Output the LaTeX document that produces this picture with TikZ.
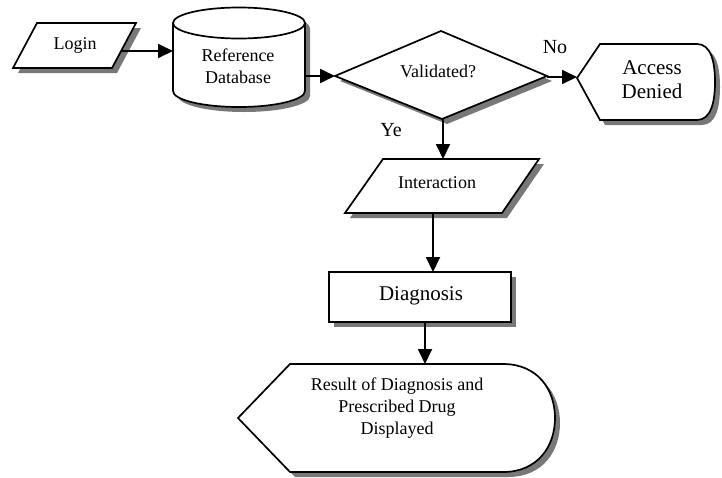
\documentclass[tikz,border=0pt]{standalone}
\usepackage{fontspec}
\setmainfont{Liberation Serif}
\usetikzlibrary{arrows.meta}
\definecolor{shadowgray}{RGB}{120,120,120}
\begin{document}
\begin{tikzpicture}[x=1pt,y=-1pt,
  shp/.style={draw, line width=1.7pt, fill=white, line join=miter},
  conn/.style={line width=1.8pt, -{Triangle[length=15pt,width=14pt]}},
  txt/.style={align=center, inner sep=0pt, font=\fontsize{18}{22}\selectfont},
  bigtxt/.style={align=center, inner sep=0pt, font=\fontsize{21}{24}\selectfont},
  lbl/.style={inner sep=0pt, font=\fontsize{20}{24}\selectfont}]
\path[use as bounding box] (0,0) rectangle (722,477);

% shadows
\begin{scope}[xshift=5pt,yshift=-5pt]
\fill[shadowgray] (37,23) -- (136,23) -- (112,68) -- (13,68) -- cycle;
\fill[shadowgray] (173,23) -- (173,91) arc[start angle=180,end angle=360,x radius=66pt,y radius=16pt]
  -- (305,23) arc[start angle=0,end angle=180,x radius=66pt,y radius=15.5pt] -- cycle;
\fill[shadowgray] (335,76) -- (441,31) -- (547,76) -- (442,119) -- cycle;
\fill[shadowgray] (577,78) -- (600,44) -- (697,44) .. controls (711,44) and (715,62) .. (715,82)
  .. controls (715,102) and (711,120) .. (697,120) -- (600,120) -- cycle;
\fill[shadowgray] (383,159) -- (539,159) -- (502,213) -- (345,213) -- cycle;
\fill[shadowgray] (329,272) rectangle (511,322);
\fill[shadowgray] (238,418) -- (290,364) -- (503,364) .. controls (538,364) and (555,390) .. (555,418)
  .. controls (555,446) and (538,472) .. (503,472) -- (290,472) -- cycle;
\end{scope}

% Login
\path[shp] (37,23) -- (136,23) -- (112,68) -- (13,68) -- cycle;
\node[txt] (login) at (75,45) {Login};
\coordinate (login-e) at (121,51);

% Reference Database (cylinder)
\path[shp] (173,23) -- (173,91) arc[start angle=180,end angle=360,x radius=66pt,y radius=16pt]
  -- (305,23) arc[start angle=0,end angle=180,x radius=66pt,y radius=15.5pt] -- cycle;
\draw[line width=1.7pt] (173,23) arc[start angle=180,end angle=360,x radius=66pt,y radius=15.5pt];
\node[txt] (db) at (238,66) {Reference\\Database};
\coordinate (db-w) at (173,51);
\coordinate (db-e) at (305,76);

% Validated?
\path[shp] (335,76) -- (441,31) -- (547,76) -- (442,119) -- cycle;
\node[txt] (valid) at (438,71) {Validated?};
\coordinate (valid-w) at (335,76);
\coordinate (valid-e) at (547,77);
\coordinate (valid-s) at (443,119);

% Access Denied
\path[shp] (577,78) -- (600,44) -- (697,44) .. controls (711,44) and (715,62) .. (715,82)
  .. controls (715,102) and (711,120) .. (697,120) -- (600,120) -- cycle;
\node[bigtxt] (denied) at (652,80) {Access\\Denied};
\coordinate (denied-w) at (577,77);

% Interaction
\path[shp] (383,159) -- (539,159) -- (502,213) -- (345,213) -- cycle;
\node[txt] (inter) at (437,183) {Interaction};
\coordinate (inter-n) at (443,159);
\coordinate (inter-s) at (433,213);

% Diagnosis
\path[shp] (329,272) rectangle (511,322);
\node[bigtxt] (diag) at (421,296) {Diagnosis};
\coordinate (diag-n) at (433,272);
\coordinate (diag-s) at (425,322);

% Result
\path[shp] (238,418) -- (290,364) -- (503,364) .. controls (538,364) and (555,390) .. (555,418)
  .. controls (555,446) and (538,472) .. (503,472) -- (290,472) -- cycle;
\node[txt] (result) at (397,408) {Result of Diagnosis and\\Prescribed Drug\\Displayed};
\coordinate (result-n) at (425,364);

% connectors
\draw[conn] (login-e) -- (db-w);
\draw[conn] (db-e) -- (valid-w);
\draw[conn] (valid-e) -- (denied-w);
\draw[conn] (valid-s) -- (inter-n);
\draw[conn] (inter-s) -- (diag-n);
\draw[conn] (diag-s) -- (result-n);

% labels
\node[lbl] (no) at (555,47) {No};
\node[lbl] (ye) at (391,130) {Ye};
\end{tikzpicture}
\end{document}
